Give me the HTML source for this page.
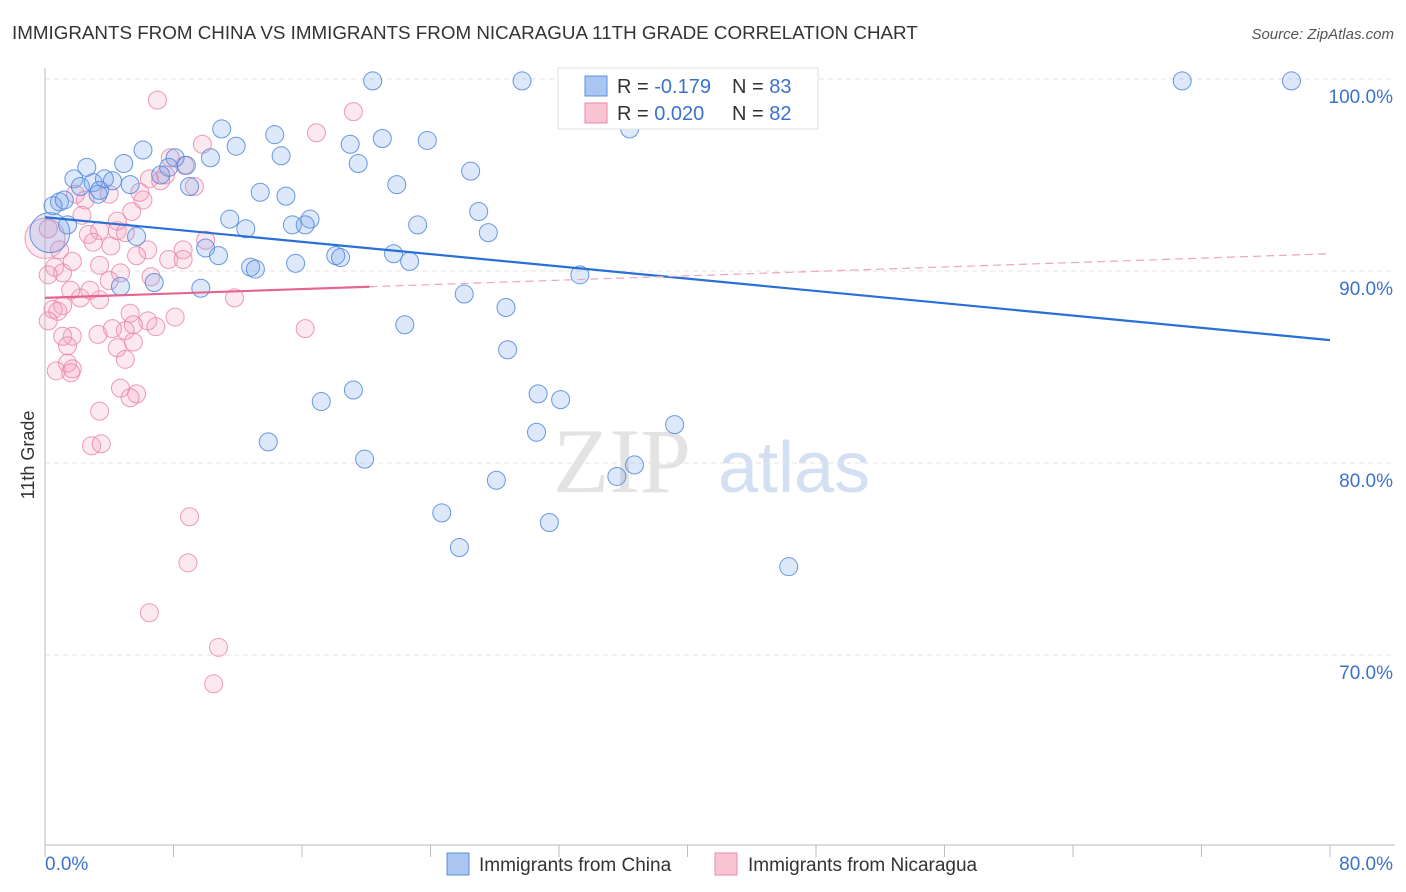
<!DOCTYPE html>
<html><head><meta charset="utf-8"><style>
body{margin:0;background:#fff;font-family:"Liberation Sans",sans-serif}
svg{display:block}
</style></head><body>
<svg id="chart" width="1406" height="892" xmlns="http://www.w3.org/2000/svg">
<text x="12" y="39" font-size="18.8" fill="#333">IMMIGRANTS FROM CHINA VS IMMIGRANTS FROM NICARAGUA 11TH GRADE CORRELATION CHART</text>
<text x="1394" y="39" font-size="15" fill="#555" font-style="italic" text-anchor="end">Source: ZipAtlas.com</text>
<g><text x="553" y="492" font-size="92" font-family="Liberation Serif,serif" fill="#e3e3e3">ZIP</text><text x="718" y="492" font-size="72" fill="#d3e0f3">atlas</text></g>
<g id="grid"></g><g id="axes"></g><g id="pts"></g><g id="trends"></g>
<text transform="translate(34,455) rotate(-90)" font-size="18" fill="#333" text-anchor="middle">11th Grade</text>
<g>
<rect x="558" y="68" width="260" height="61" fill="#fff" stroke="#e2e2e2"/>
<rect x="585" y="76" width="22" height="20" fill="#a9c6f2" stroke="#5b8fe0"/>
<text x="617" y="93" font-size="20" fill="#333">R = <tspan fill="#3b73c9">-0.179</tspan></text>
<text x="732" y="93" font-size="20" fill="#333">N = <tspan fill="#3b73c9">83</tspan></text>
<rect x="585" y="103" width="22" height="20" fill="#f8c4d3" stroke="#e98aa8"/>
<text x="617" y="120" font-size="20" fill="#333">R = <tspan fill="#3b73c9"> 0.020</tspan></text>
<text x="732" y="120" font-size="20" fill="#333">N = <tspan fill="#3b73c9">82</tspan></text>
</g>
<g>
<rect x="447" y="853" width="22" height="22" fill="#a9c6f2" stroke="#5b8fe0"/>
<text x="479" y="871" font-size="19" fill="#333">Immigrants from China</text>
<rect x="715" y="853" width="22" height="22" fill="#f8c4d3" stroke="#e98aa8"/>
<text x="748" y="871" font-size="19" fill="#333">Immigrants from Nicaragua</text>
</g>
</svg>
<script>
const chinaX=[20.4,29.7,32.9,70.8,77.6,11.0,14.3,21.0,23.8,36.4,6.1,11.9,19.0,8.1,14.7,10.3,4.9,2.6,8.8,7.7,19.5,1.8,3.7,4.2,2.2,3.0,5.3,7.2,9.0,26.5,21.9,13.4,15.0,3.3,0.9,0.5,11.5,16.5,15.4,16.2,12.5,27.0,23.2,27.6,1.4,5.7,10.0,10.8,18.1,18.4,21.7,22.7,12.8,13.1,15.6,33.3,4.7,6.8,9.7,26.1,28.7,22.4,28.8,17.2,19.2,30.7,32.1,13.9,30.6,39.2,19.9,36.7,35.6,28.1,24.7,31.4,25.8,46.3,3.4,1.2,0.3];
const chinaY=[99.9,99.9,99.9,99.9,99.9,97.4,97.1,96.9,96.8,97.4,96.3,96.5,96.6,95.9,96.0,95.9,95.6,95.4,95.5,95.4,95.6,94.8,94.8,94.7,94.4,94.6,94.5,95.0,94.4,95.2,94.5,94.1,93.9,94.0,93.6,93.4,92.7,92.7,92.4,92.4,92.2,93.1,92.4,92.0,92.4,91.8,91.2,90.8,90.8,90.7,90.9,90.5,90.2,90.1,90.4,89.8,89.2,89.4,89.1,88.8,88.1,87.2,85.9,83.2,83.8,83.6,83.3,81.1,81.6,82.0,80.2,79.9,79.3,79.1,77.4,76.9,75.6,74.6,94.2,93.7,92.0];
const nicX=[7.0,19.2,16.9,9.8,7.8,8.7,9.3,6.5,7.5,6.1,4.0,2.5,2.3,5.4,1.9,3.4,4.5,2.7,5.0,6.4,4.1,3.0,10.0,8.6,7.7,8.6,5.7,0.6,1.1,3.4,1.7,4.7,6.6,0.2,11.8,2.2,1.1,1.6,3.4,5.3,6.4,8.1,5.0,5.5,6.9,16.2,3.3,4.2,1.7,1.1,0.5,0.8,0.2,1.4,5.5,4.5,5.0,1.4,1.7,0.7,1.6,4.7,5.7,5.3,3.4,2.9,3.5,9.0,8.9,6.5,10.8,10.5,0.0,0.2,2.8,4.0,0.9,4.5,7.2,5.9];
const nicY=[98.9,98.3,97.2,96.6,95.9,95.5,94.4,94.8,95.0,93.7,94.0,93.7,92.9,93.1,94.0,92.1,92.1,91.9,92.0,91.1,91.3,91.5,91.6,91.1,90.6,90.6,90.8,90.2,89.9,90.3,90.5,89.9,89.7,89.8,88.6,88.6,88.2,89.0,88.5,87.8,87.4,87.6,86.9,87.2,87.1,87.0,86.7,87.0,86.6,86.6,88.0,87.9,87.4,86.1,86.3,86.0,85.4,85.2,84.9,84.8,84.7,83.9,83.6,83.4,82.7,80.9,81.0,77.2,74.8,72.2,70.4,68.5,91.7,92.2,89.0,89.5,91.1,92.6,94.7,94.1];
const bigChina=[80]; const bigNic=[72];
const xTicks=[0,8,16,24,32,40,48,56,64,72,80];
const yTicks=[100,90,80,70];
const yTickLabels=["100.0%","90.0%","80.0%","70.0%"];
const chinaTrend=[92.8,86.4];
const nicTrend=[88.6,90.9];
const nicSolidEnd=20.2;
const NS="http://www.w3.org/2000/svg";
const X=v=>45+v/80*1285, Y=v=>79+(100-v)*19.2;
function mk(tag,attrs,parent){const e=document.createElementNS(NS,tag);for(const k in attrs)e.setAttribute(k,attrs[k]);document.getElementById(parent).appendChild(e);return e;}
yTicks.forEach((t,i)=>{
 const g=mk('line',{x1:45,x2:1395,y1:Y(t),y2:Y(t),stroke:'#e3e3e3','stroke-dasharray':'5,4'},'grid');
 
 
 const l=mk('text',{x:1393,y:Y(t)+24,'font-size':19,fill:'#3b73c9','text-anchor':'end'},'grid');
 l.textContent=yTickLabels[i];
 
 
});
let a=mk('line',{x1:45,x2:45,y1:68,y2:845,stroke:'#bbb'},'axes');


a=mk('line',{x1:45,x2:1395,y1:845,y2:845,stroke:'#bbb'},'axes');


xTicks.forEach(t=>{const k=mk('line',{x1:X(t),x2:X(t),y1:845,y2:857,stroke:'#bbb'},'axes');
 
 });
let t=mk('text',{x:45,y:870,'font-size':19,fill:'#3b73c9'},'axes');t.textContent='0.0%';


t=mk('text',{x:1393,y:870,'font-size':19,fill:'#3b73c9','text-anchor':'end'},'axes');t.textContent='80.0%';


function pts(xs,ys,big,fill,stroke,name){xs.forEach((x,i)=>{
 const c=mk('circle',{cx:X(x),cy:Y(ys[i]),r:big.includes(i)?20:9,fill:fill,stroke:stroke,'stroke-width':1},'pts');
 
 });}
pts(nicX,nicY,bigNic,'rgba(245,165,190,0.25)','rgba(233,130,165,0.8)','point-nicaragua');
pts(chinaX,chinaY,bigChina,'rgba(120,165,235,0.25)','rgba(80,135,220,0.85)','point-china');
let ln=mk('line',{x1:X(0),y1:Y(chinaTrend[0]),x2:X(80),y2:Y(chinaTrend[1]),stroke:'#2a6fd6','stroke-width':2.2},'trends');


const ny=x=>nicTrend[0]+(nicTrend[1]-nicTrend[0])*x/80;
ln=mk('line',{x1:X(0),y1:Y(ny(0)),x2:X(nicSolidEnd),y2:Y(ny(nicSolidEnd)),stroke:'#e5658f','stroke-width':2.2},'trends');


ln=mk('line',{x1:X(nicSolidEnd),y1:Y(ny(nicSolidEnd)),x2:X(80),y2:Y(ny(80)),stroke:'#eea5bd','stroke-width':1.2,'stroke-dasharray':'8,5'},'trends');


</script>
</body></html>
